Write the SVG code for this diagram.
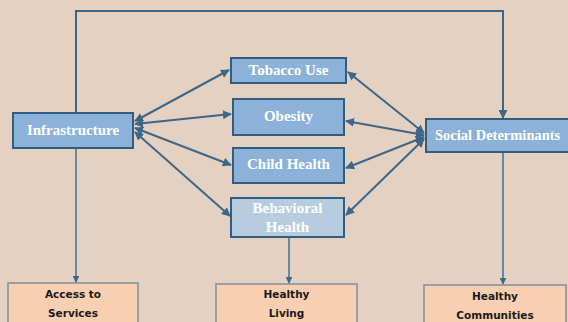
<svg xmlns="http://www.w3.org/2000/svg" width="568" height="322" viewBox="0 0 568 322">
  <defs>
    <marker id="arrow" viewBox="0 0 10 10" refX="9" refY="5" markerWidth="4.5" markerHeight="4.5" orient="auto-start-reverse" markerUnits="strokeWidth">
      <path d="M0,0 L10,5 L0,10 z" fill="#3d6788"/>
    </marker>
    <style>
      .bg { fill: #e4d1c2; }
      .blue { fill: #8cb2d9; stroke: #2f5e80; stroke-width: 2; }
      .pale { fill: #b8ccdf; stroke: #2f5e80; stroke-width: 2; }
      .peach { fill: #f8cfb1; stroke: #7e8e9c; stroke-width: 1.5; }
      .wt { font-family: "Liberation Serif", "Times New Roman", serif; font-weight: bold; font-size: 15px; fill: #ffffff; text-anchor: middle; dominant-baseline: central; }
      .bt { font-family: "DejaVu Sans", "Liberation Sans", sans-serif; font-weight: bold; font-size: 10.5px; fill: #1a1a1a; text-anchor: middle; dominant-baseline: central; }
      .link { fill: none; stroke: #3d6788; stroke-width: 2; }
      .down { fill: none; stroke: #3d6f98; stroke-width: 1.5; }
    </style>
  </defs>

  <rect class="bg" x="0" y="0" width="568" height="322"/>

  <!-- connectors -->
  <g id="connectors">
    <!-- loop over the top from Infrastructure to Social Determinants -->
    <polyline class="link" points="76,113 76,11 503,11 503,118" marker-end="url(#arrow)"/>
    <!-- Infrastructure to the four focus areas -->
    <line class="link" x1="135" y1="121" x2="229" y2="70" marker-start="url(#arrow)" marker-end="url(#arrow)"/>
    <line class="link" x1="135" y1="124" x2="231" y2="114" marker-start="url(#arrow)" marker-end="url(#arrow)"/>
    <line class="link" x1="135" y1="128" x2="231" y2="165" marker-start="url(#arrow)" marker-end="url(#arrow)"/>
    <line class="link" x1="135" y1="132" x2="230" y2="216" marker-start="url(#arrow)" marker-end="url(#arrow)"/>
    <!-- Social Determinants to the four focus areas -->
    <line class="link" x1="424" y1="133" x2="348" y2="72" marker-start="url(#arrow)" marker-end="url(#arrow)"/>
    <line class="link" x1="424" y1="135" x2="346" y2="121" marker-start="url(#arrow)" marker-end="url(#arrow)"/>
    <line class="link" x1="424" y1="137" x2="346" y2="168" marker-start="url(#arrow)" marker-end="url(#arrow)"/>
    <line class="link" x1="424" y1="139" x2="346" y2="215" marker-start="url(#arrow)" marker-end="url(#arrow)"/>
    <!-- down to the outcomes -->
    <line class="down" x1="76" y1="149" x2="76" y2="282" marker-end="url(#arrow)"/>
    <line class="down" x1="289" y1="238" x2="289" y2="283" marker-end="url(#arrow)"/>
    <line class="down" x1="503" y1="153" x2="503" y2="284" marker-end="url(#arrow)"/>
  </g>

  <g id="infrastructure">
    <rect class="blue" x="13" y="113" width="120" height="35"/>
    <text class="wt" x="73" y="130">Infrastructure</text>
  </g>

  <g id="tobacco-use">
    <rect class="blue" x="231" y="58" width="115" height="25"/>
    <text class="wt" x="288.5" y="70">Tobacco Use</text>
  </g>

  <g id="obesity">
    <rect class="blue" x="233" y="99" width="111" height="36"/>
    <text class="wt" x="288.5" y="116">Obesity</text>
  </g>

  <g id="child-health">
    <rect class="blue" x="233" y="148" width="111" height="35"/>
    <text class="wt" x="288.5" y="164">Child Health</text>
  </g>

  <g id="behavioral-health">
    <rect class="pale" x="231" y="198" width="113" height="39"/>
    <text class="wt" x="287.5" y="208">Behavioral</text>
    <text class="wt" x="287.5" y="227">Health</text>
  </g>

  <g id="social-determinants">
    <rect class="blue" x="426" y="119" width="152" height="33"/>
    <text class="wt" x="435" y="135" style="text-anchor:start;font-size:14.5px">Social Determinants</text>
  </g>

  <g id="access-to-services">
    <rect class="peach" x="8" y="283" width="130" height="45"/>
    <text class="bt" x="73" y="294">Access to</text>
    <text class="bt" x="73" y="313">Services</text>
  </g>

  <g id="healthy-living">
    <rect class="peach" x="216" y="284" width="141" height="45"/>
    <text class="bt" x="286.5" y="294">Healthy</text>
    <text class="bt" x="286.5" y="313">Living</text>
  </g>

  <g id="healthy-communities">
    <rect class="peach" x="424" y="285" width="142" height="45"/>
    <text class="bt" x="495" y="296">Healthy</text>
    <text class="bt" x="495" y="315">Communities</text>
  </g>
</svg>
